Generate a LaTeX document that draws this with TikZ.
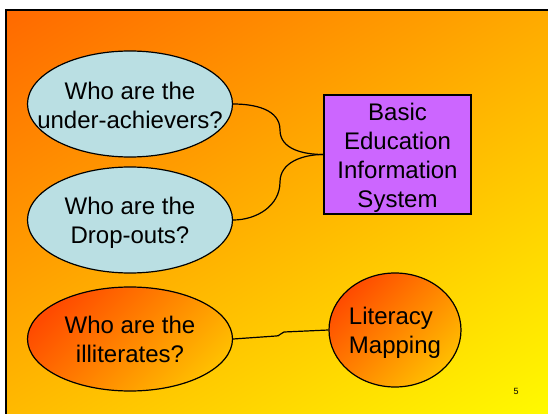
\documentclass[tikz,border=0pt]{standalone}
\usepackage{fontspec}
\setmainfont{Liberation Sans}
\usetikzlibrary{shapes.geometric}
\definecolor{bubblefill}{RGB}{186,223,227}
\definecolor{besfill}{RGB}{204,102,255}
\definecolor{hotA}{RGB}{255,75,0}
\definecolor{hotB}{RGB}{255,190,0}
\pgfdeclarefunctionalshading{bgshade}{\pgfpoint{0pt}{0pt}}{\pgfpoint{548pt}{414pt}}{}{%
  exch 0.12 mul exch 414 exch sub 0.2 mul add 102 add 255 div 1 exch 0}
\begin{document}
\begin{tikzpicture}[x=1pt,y=-1pt,
  txt/.style={font=\fontsize{24}{29}\selectfont, inner sep=0pt, text=black},
  bubble/.style={ellipse, draw=black, line width=1.2pt, fill=bubblefill,
    minimum width=205pt, minimum height=106pt, inner sep=0pt},
  hot/.style={ellipse, draw=black, line width=1.2pt, top color=hotA,
    bottom color=hotB, shading angle=45, inner sep=0pt},
  besbox/.style={rectangle, draw=black, line width=1.2pt, fill=besfill,
    minimum width=147pt, minimum height=119pt, inner sep=0pt},
  link/.style={draw=black, line width=1.2pt}]
\useasboundingbox (0,0) rectangle (548,414);
\fill[white] (0,0) rectangle (548,414);
\begin{scope}
  \clip (6,10) rectangle (548,414);
  \node[inner sep=0pt, outer sep=0pt, anchor=north west] (bg) at (0,0) {\pgfuseshading{bgshade}};
\end{scope}
\draw[line width=2pt] (6,414) -- (6,10) -- (548,10);

\node[bubble, label={[txt, align=center, yshift=-1.5pt]center:{Who are the\\under-achievers?}}] (q1) at (130,104) {};
\node[bubble, label={[txt, align=center, yshift=-3pt]center:{Who are the\\Drop-outs?}}] (q2) at (130,220) {};
\node[hot, minimum width=205pt, minimum height=104pt,
  label={[txt, align=center]center:{Who are the\\illiterates?}}] (q3) at (130,339) {};

\node[besbox, label={[txt, align=center, yshift=-3pt]center:{Basic\\Education\\Information\\System}}] (bes) at (397.5,154.5) {};

\node[hot, minimum width=132pt, minimum height=114pt,
  label={[txt, align=left, yshift=-3pt]center:{Literacy\\Mapping}}] (lit) at (395,330) {};

\coordinate (m1) at (280,130);
\coordinate (m2) at (280,182);
\coordinate (j1) at (276,336);
\coordinate (j2) at (284,332);

\draw[link] (q1.east) to[out=0,in=90] (m1) to[out=-90,in=180] (bes.west);
\draw[link] (q2.east) to[out=0,in=-90] (m2) to[out=90,in=180] (bes.west);
\draw[link] (q3.east) -- (j1) to[out=-10,in=190] (j2) -- (lit.west);

\node[font=\fontsize{9}{11}\selectfont, inner sep=0pt] (pg) at (516,391) {5};
\end{tikzpicture}
\end{document}
